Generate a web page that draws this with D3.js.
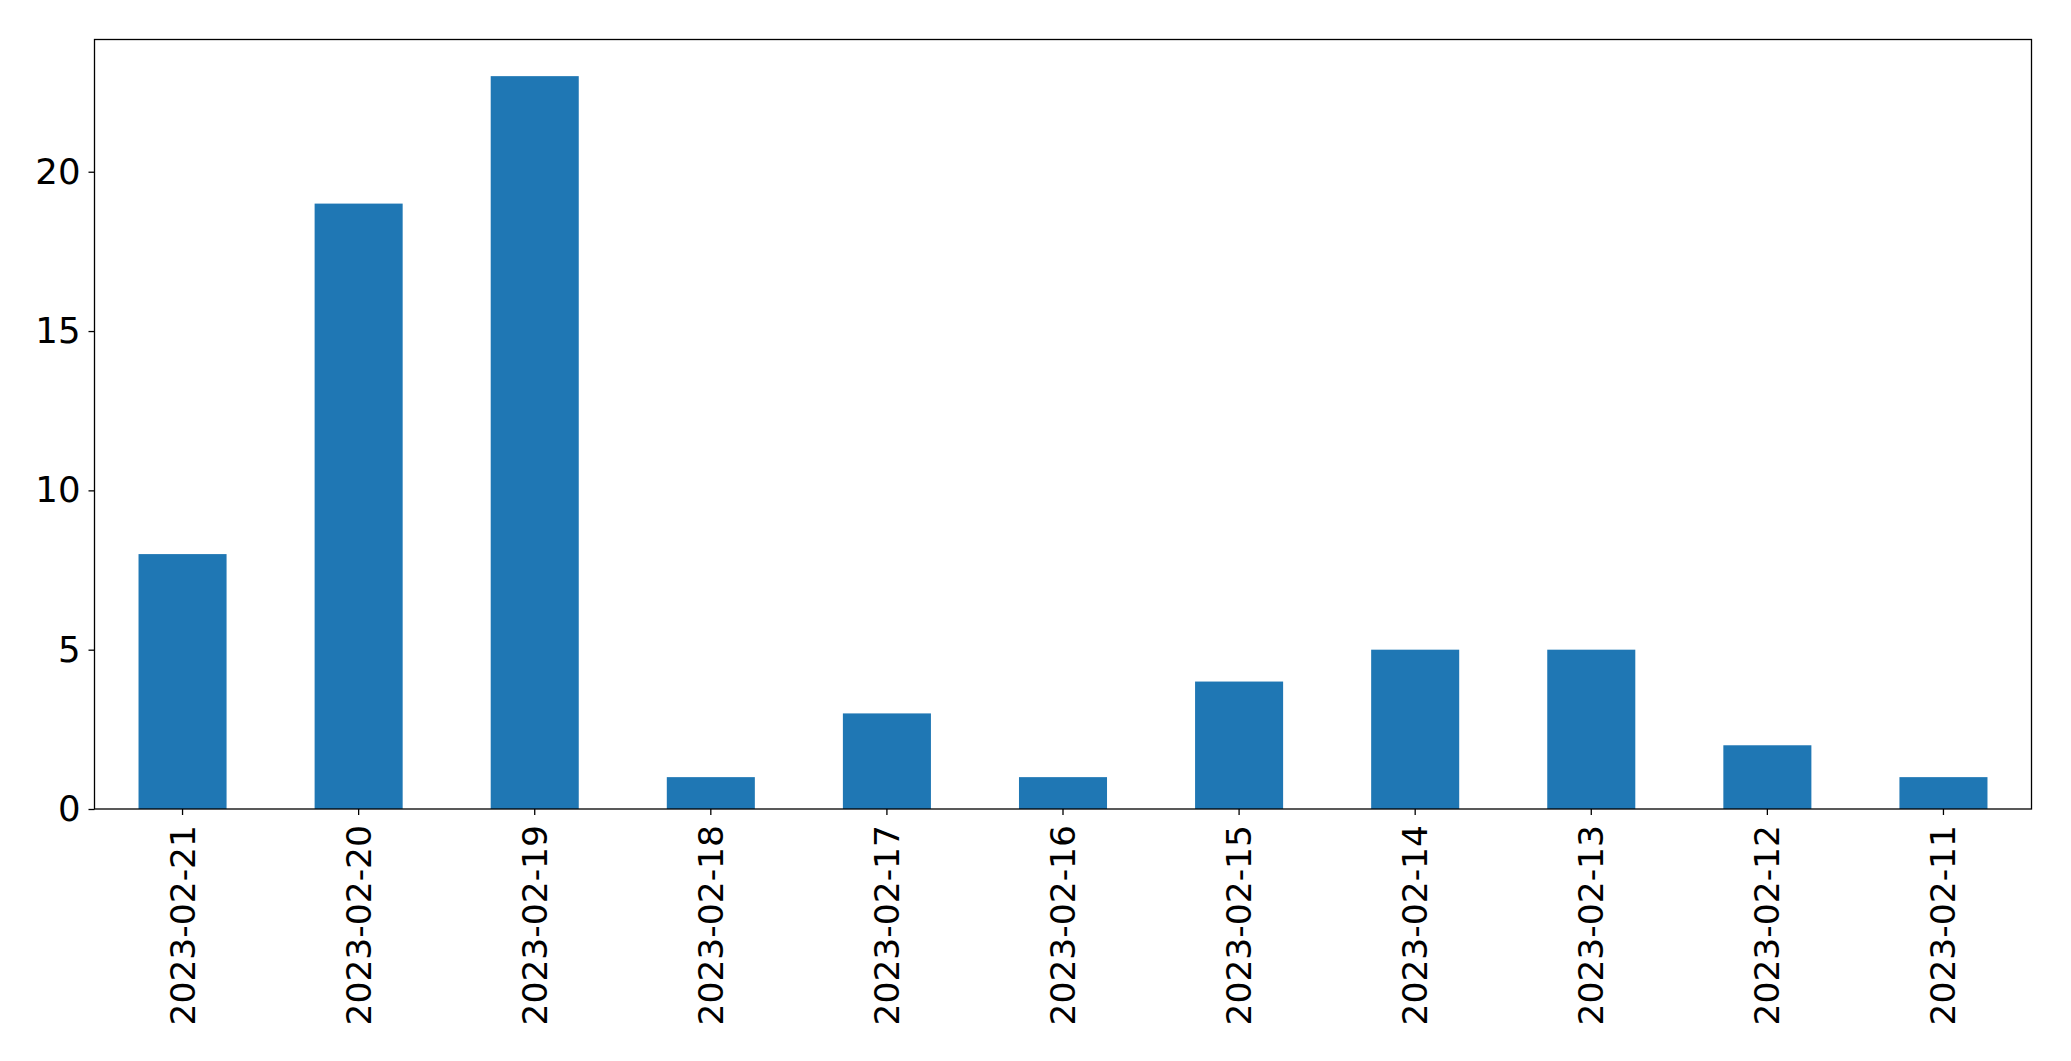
<!DOCTYPE html>
<html><head><meta charset="utf-8">
<script src="https://cdn.jsdelivr.net/npm/d3@7"></script>
<style>body{margin:0;background:#fff;} svg{display:block;}</style>
</head><body>
<svg id="chart" width="2071" height="1061"></svg>
<script>
const categories = ["2023-02-21","2023-02-20","2023-02-19","2023-02-18","2023-02-17","2023-02-16","2023-02-15","2023-02-14","2023-02-13","2023-02-12","2023-02-11"];
const values = [8,19,23,1,3,1,4,5,5,2,1];
const yTicks = [0,5,10,15,20];

const W = 2071, H = 1061;
const m = {left: 94.5, right: 2031.5, top: 39.5, bottom: 809};
const svg = d3.select("#chart");
const font = "'DejaVu Sans', sans-serif";

const x = d3.scaleBand().domain(categories).range([m.left, m.right]).paddingInner(0.5).paddingOuter(0.25);
const y = d3.scaleLinear().domain([0, d3.max(values) * 1.05]).range([m.bottom, m.top]);

svg.append("g").selectAll("rect").data(values).join("rect")
  .attr("x", (d, i) => x(categories[i]))
  .attr("width", x.bandwidth())
  .attr("y", d => y(d))
  .attr("height", d => y(0) - y(d))
  .attr("fill", "#1f77b4");

const yAxis = svg.append("g").attr("transform", `translate(${m.left},0)`)
  .call(d3.axisLeft(y).tickValues(yTicks).tickFormat(d3.format("d")).tickSize(6).tickPadding(8));
yAxis.select(".domain").remove();
yAxis.selectAll("text").attr("font-family", font).attr("font-size", 35.5).attr("fill", "#000");
yAxis.selectAll("line").attr("stroke", "#000").attr("stroke-width", 1.3);

const xAxis = svg.append("g").attr("transform", `translate(0,${m.bottom})`)
  .call(d3.axisBottom(x).tickSize(6).tickPadding(0));
xAxis.select(".domain").remove();
xAxis.selectAll("line").attr("stroke", "#000").attr("stroke-width", 1.3);
xAxis.selectAll("text")
  .attr("font-family", font).attr("font-size", 34.5).attr("fill", "#000")
  .attr("text-anchor", "end")
  .attr("dy", null)
  .attr("y", 0)
  .attr("transform", "translate(0,16) rotate(-90)")
  .attr("x", 0)
  .attr("dominant-baseline", "central");

svg.append("rect")
  .attr("x", m.left).attr("y", m.top)
  .attr("width", m.right - m.left).attr("height", m.bottom - m.top)
  .attr("fill", "none").attr("stroke", "#000").attr("stroke-width", 1.3);
</script>
</body></html>
